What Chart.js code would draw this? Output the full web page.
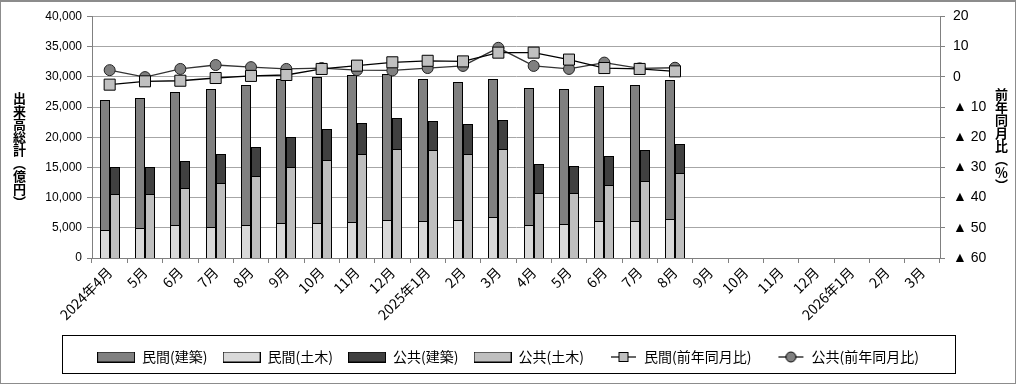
<!DOCTYPE html>
<html lang="ja">
<head>
<meta charset="utf-8">
<script src="https://cdn.jsdelivr.net/npm/chart.js@4.4.1/dist/chart.umd.min.js"></script>
<style>
  html, body { margin: 0; padding: 0; background: #fff; }
  #wrap { position: relative; width: 1016px; height: 384px; }
  #chart { display: block; }
  #frame { position: absolute; left: 0; top: 0; width: 1016px; height: 384px; box-sizing: border-box;
           border: 1px solid #8c8c8c; border-top: 2px solid #8c8c8c; pointer-events: none; }
  .vtitle { position: absolute; writing-mode: vertical-rl; font: bold 13px "Noto Sans CJK JP"; color: #000; line-height: 1; }
</style>
</head>
<body>
<div id="wrap">
  <canvas id="chart" width="1016" height="384"></canvas>
  <div class="vtitle" style="left:13px; top:92px;">出来高総計（億円）</div>
  <div class="vtitle" style="left:995px; top:88px;">前年同月比（％）</div>
  <div id="frame"></div>
</div>
<script>
// months on the x axis (2024/4 - 2026/3)
var months = ['2024年4月', '5月', '6月', '7月', '8月', '9月', '10月', '11月', '12月',
              '2025年1月', '2月', '3月', '4月', '5月', '6月', '7月', '8月', '9月', '10月', '11月', '12月',
              '2026年1月', '2月', '3月'];

// 億円
var privBuild = [21400, 21500, 22100, 22800, 23300, 23900, 24200, 24300, 24200, 23500, 22900, 22900,
                 22800, 22300, 22200, 22500, 22900];
var privCivil = [4700, 5000, 5400, 5200, 5400, 5800, 5800, 6000, 6300, 6200, 6300, 6800,
                 5400, 5700, 6200, 6200, 6500];
var pubBuild = [4400, 4400, 4500, 4800, 4900, 5000, 5100, 5100, 5000, 4800, 4900, 4800,
                4800, 4500, 4800, 5100, 4900];
var pubCivil = [10600, 10600, 11600, 12500, 13500, 15100, 16300, 17300, 18100, 17900, 17300, 18100,
                10800, 10800, 12100, 12800, 14000];

// 前年同月比 (%)
var privYoY = [-2.6, -1.5, -1.3, -0.4, 0.3, 0.6, 2.6, 3.7, 4.8, 5.3, 5.1, 8.0,
               8.0, 5.7, 2.9, 2.6, 1.8];
var pubYoY = [2.2, -0.1, 2.6, 3.9, 3.2, 2.6, 2.9, 2.2, 2.1, 2.9, 3.6, 9.6,
              3.6, 2.6, 4.7, 2.8, 3.0];

var leftTicks = [0, 5000, 10000, 15000, 20000, 25000, 30000, 35000, 40000];
var rightTicks = [-60, -50, -40, -30, -20, -10, 0, 10, 20];

var colPrivBuild = '#808080', colPrivCivil = '#d9d9d9', colPubBuild = '#404040', colPubCivil = '#bfbfbf';

// legend icons
function boxIcon(fill) {
    var c = document.createElement('canvas');
    c.width = 38; c.height = 11;
    var g = c.getContext('2d');
    g.fillStyle = fill;
    g.fillRect(0.5, 0.5, 37, 10);
    g.strokeStyle = '#000';
    g.lineWidth = 1;
    g.strokeRect(0.5, 0.5, 37, 10);
    return c;
}
function lineIcon(shape, fill) {
    var c = document.createElement('canvas');
    c.width = 38; c.height = 14;
    var g = c.getContext('2d');
    g.strokeStyle = '#000';
    g.lineWidth = 1.2;
    g.beginPath(); g.moveTo(12, 7); g.lineTo(37, 7); g.stroke();
    g.fillStyle = fill;
    g.lineWidth = 1;
    if (shape === 'rect') {
        g.fillRect(20, 2.5, 9, 9);
        g.strokeRect(20, 2.5, 9, 9);
    } else {
        g.beginPath(); g.arc(24.5, 7, 5, 0, Math.PI * 2); g.fill(); g.stroke();
    }
    return c;
}

// keep bar edges on whole pixels so the outlines stay crisp
var snapBars = {
    id: 'snapBars',
    afterDatasetsUpdate: function (chart) {
        chart.data.datasets.forEach(function (d, i) {
            var meta = chart.getDatasetMeta(i);
            if (meta.type !== 'bar') return;
            meta.data.forEach(function (el) {
                el.x = Math.round(el.x);
                el.width = Math.round(el.width);
                el.y = Math.round(el.y);
                el.base = Math.round(el.base);
            });
        });
    }
};

var legendFrame = {
    id: 'legendFrame',
    afterDraw: function (chart) {
        var lg = chart.legend, c = chart.ctx;
        c.save();
        c.strokeStyle = '#000';
        c.lineWidth = 1;
        c.strokeRect(62.5, Math.round(lg.top) + 0.5, 893, Math.round(lg.height) - 1);
        c.restore();
    }
};

var ctx = document.getElementById('chart').getContext('2d');
var chart = new Chart(ctx, {
    type: 'bar',
    data: {
        labels: months,
        datasets: [
            { label: '民間(土木)', data: privCivil, stack: 'priv', backgroundColor: colPrivCivil, order: 1 },
            { label: '民間(建築)', data: privBuild, stack: 'priv', backgroundColor: colPrivBuild, order: 1 },
            { label: '公共(土木)', data: pubCivil, stack: 'pub', backgroundColor: colPubCivil, order: 1 },
            { label: '公共(建築)', data: pubBuild, stack: 'pub', backgroundColor: colPubBuild, order: 1 },
            { type: 'line', label: '民間(前年同月比)', data: privYoY, yAxisID: 'y1', order: 0,
              borderColor: '#000', borderWidth: 1.3, pointStyle: 'rect', pointRadius: 7.8,
              pointBackgroundColor: '#c0c0c0', pointBorderColor: '#000', pointBorderWidth: 1 },
            { type: 'line', label: '公共(前年同月比)', data: pubYoY, yAxisID: 'y1', order: 0,
              borderColor: '#333', borderWidth: 1.3, pointStyle: 'circle', pointRadius: 5.5,
              pointBackgroundColor: '#808080', pointBorderColor: '#222', pointBorderWidth: 1 }
        ]
    },
    options: {
        responsive: false,
        animation: false,
        layout: { padding: { top: 16, bottom: 10, left: 0, right: 0 } },
        datasets: {
            bar: { categoryPercentage: 0.566, barPercentage: 1, borderColor: '#000', borderWidth: 1,
                   inflateAmount: 0 }
        },
        scales: {
            x: {
                stacked: true,
                grid: { display: true, drawOnChartArea: false, color: '#808080', tickLength: 5 },
                border: { color: '#808080' },
                ticks: { autoSkip: false, maxRotation: 45, minRotation: 45, padding: 1, color: '#000',
                         font: { family: '"Noto Sans CJK JP"', size: 14 } },
                afterFit: function (s) {
                    var lg = s.chart.legend;
                    s.height = s.chart.height - 258 - (lg ? lg.height : 33) - 10;
                }
            },
            y: {
                stacked: true,
                position: 'left',
                min: 0, max: 40000,
                afterBuildTicks: function (s) { s.ticks = leftTicks.map(function (v) { return { value: v }; }); },
                grid: { color: '#a6a6a6', tickColor: '#808080', tickLength: 5 },
                border: { color: '#808080' },
                ticks: { padding: 5, color: '#000', font: { family: '"Liberation Sans"', size: 12 },
                         callback: function (v) { return v.toLocaleString('en-US'); } },
                afterFit: function (s) { s.width = 92; }
            },
            y1: {
                position: 'right',
                min: -60, max: 20,
                afterBuildTicks: function (s) { s.ticks = rightTicks.map(function (v) { return { value: v }; }); },
                grid: { drawOnChartArea: false, color: '#808080', tickLength: 5 },
                border: { color: '#808080' },
                ticks: { padding: 8, color: '#000', font: { family: '"Liberation Sans", "DejaVu Sans"', size: 14 },
                         callback: function (v) { return v < 0 ? '▲ ' + (-v) : String(v); } },
                afterFit: function (s) { s.width = 76; }
            }
        },
        plugins: {
            tooltip: { enabled: false },
            legend: {
                position: 'bottom',
                labels: {
                    usePointStyle: true,
                    pointStyleWidth: 38,
                    padding: 15,
                    color: '#000',
                    font: { family: '"Noto Sans CJK JP"', size: 14 },
                    generateLabels: function (chart) {
                        var ds = chart.data.datasets;
                        var icons = [boxIcon(colPrivBuild), boxIcon(colPrivCivil), boxIcon(colPubBuild),
                                     boxIcon(colPubCivil), lineIcon('rect', '#c0c0c0'), lineIcon('circle', '#808080')];
                        var idx = [1, 0, 3, 2, 4, 5];
                        return idx.map(function (i, k) {
                            return { text: ds[i].label, datasetIndex: i, pointStyle: icons[k],
                                     fillStyle: '#fff', strokeStyle: '#000', lineWidth: 1, hidden: false,
                                     fontColor: '#000' };
                        });
                    }
                }
            }
        }
    },
    plugins: [snapBars, legendFrame]
});
</script>
</body>
</html>
